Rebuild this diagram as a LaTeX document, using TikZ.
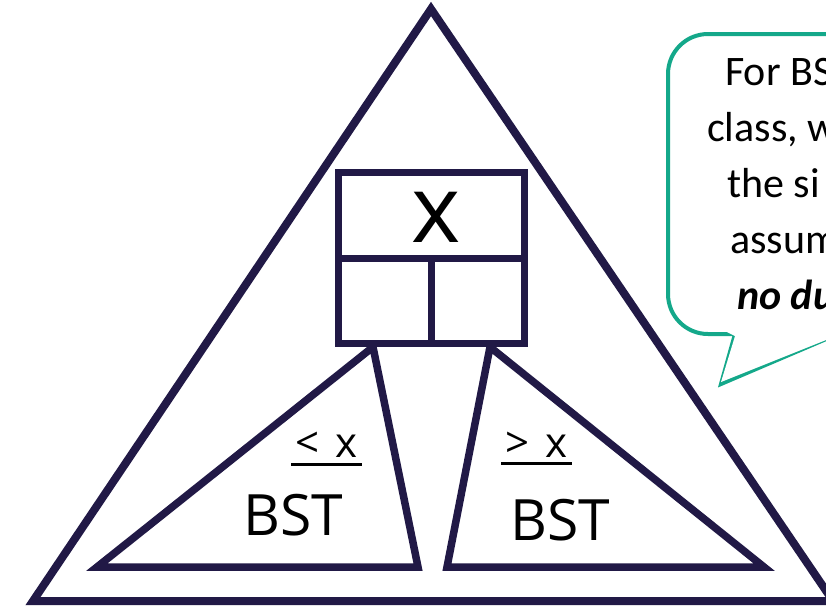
\documentclass[tikz,border=0pt]{standalone}
\usepackage{fontspec}
\setmainfont{Carlito}
\newfontfamily\treefont{Open Sans}
\definecolor{navy}{RGB}{33,25,70}
\definecolor{tealc}{RGB}{20,168,138}
\begin{document}
\begin{tikzpicture}[x=1pt,y=-1pt,line join=miter,
  frame/.style={draw=navy,line width=8pt},
  boxline/.style={draw=navy,line width=7pt},
  callout/.style={draw=tealc,line width=4pt},
  calltext/.style={anchor=base west,inner sep=0pt,font=\fontsize{42}{42}\selectfont},
  lbl/.style={anchor=base,inner sep=0pt,font=\treefont\fontsize{42}{42}\selectfont},
  bst/.style={anchor=base,inner sep=0pt,font=\treefont\fontsize{57}{57}\selectfont},
  uline/.style={draw=black,line width=3pt}]
\useasboundingbox (0,0) rectangle (826,606);
\clip (0,0) rectangle (826,606);
\fill[white] (0,0) rectangle (826,606);
% outer triangle
\coordinate (apex) at (431,9);
\coordinate (bl) at (33,601);
\coordinate (br) at (833,601);
\draw[frame] (apex) -- (bl) -- (br) -- cycle;
% subtrees
\coordinate (la) at (373,347);
\coordinate (lb) at (97,567);
\coordinate (lc) at (418,567);
\draw[frame,line width=7.5pt] (la) -- (lb) -- (lc) -- cycle;
\coordinate (ra) at (490,347);
\coordinate (rb) at (447,567);
\coordinate (rc) at (764,567);
\draw[frame,line width=7.5pt] (ra) -- (rb) -- (rc) -- cycle;
% node box
\fill[white] (338,172) rectangle (524,343);
\draw[boxline] (338,172) rectangle (524,343);
\draw[boxline] (338,258) -- (524,258);
\draw[boxline] (431,258) -- (431,343);
\node[anchor=base,inner sep=0pt,font=\treefont\fontsize{94}{94}\selectfont] (key) at (436,242) {x};
% labels
\node[lbl] (ltx) at (327,457) {<\hspace{16pt}x};
\draw[uline] (291,464) -- (362,464);
\node[lbl] (gtx) at (537,457) {>\hspace{16pt}x};
\draw[uline] (501,463) -- (572,463);
\node[bst] (bstl) at (293,535) {BST};
\node[bst] (bstr) at (560,540) {BST};
% callout
\fill[white,rounded corners=40pt] (668,34) rectangle (900,334);
\draw[callout,rounded corners=40pt] (735,334) -- (668,334) -- (668,34) -- (900,34);
\draw[callout] (733,334) -- (735,334) -- (721,384) -- (838,334) -- (900,334);
\fill[white] (725,331) -- (735,336) -- (721,382) -- (836,336) -- cycle;
\node[calltext] (t1) at (725,85) {For BST};
\node[calltext] (t2) at (707,141) {class, w};
\node[calltext] (t3) at (727,197) {the si};
\node[calltext] (t4) at (730,253) {assum};
\node[calltext,font=\fontsize{42}{42}\selectfont\bfseries\itshape] (t5) at (737,309) {no du};
\end{tikzpicture}
\end{document}
